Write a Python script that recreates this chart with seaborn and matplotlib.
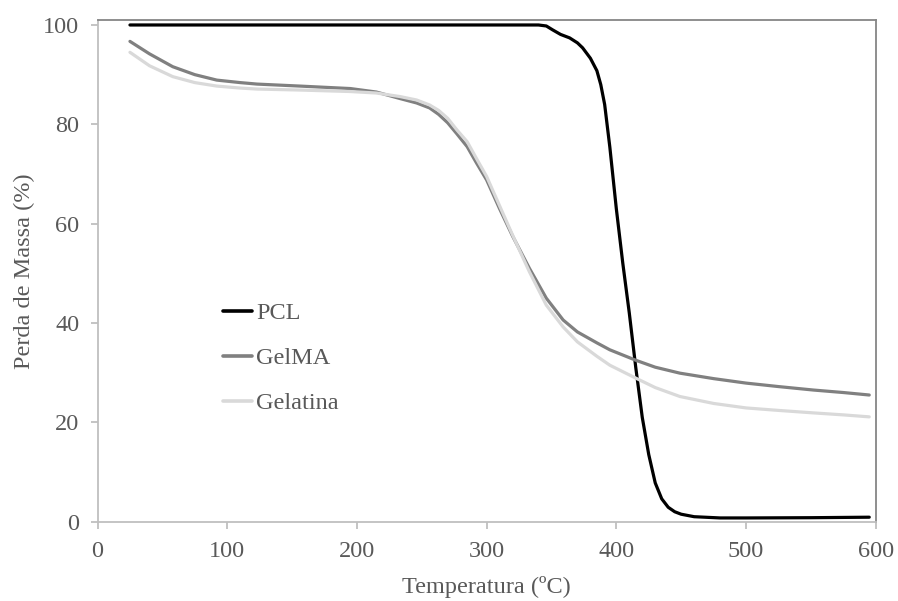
import pandas as pd
import matplotlib.pyplot as plt
import seaborn as sns

# PCL
pcl_temp = [25, 100, 200, 300, 340, 346, 351, 357, 364, 370, 374, 380, 385, 388, 391, 395,
            400, 405, 410, 415, 420, 425, 430, 435, 440, 445, 450, 460, 480, 500, 550, 595]
pcl_massa = [100, 100, 100, 100, 100, 99.8, 99.0, 98.1, 97.4, 96.4, 95.4, 93.3, 90.8, 88.0, 84.0, 75.4,
             63, 52, 42, 31, 21, 13.5, 7.8, 4.6, 2.9, 2.0, 1.5, 1.0, 0.75, 0.75, 0.8, 0.9]

# GelMA
gelma_temp = [25, 40, 58, 75, 92, 110, 123, 156, 195, 215, 233, 246, 256, 263, 270, 277, 285,
              292, 300, 310, 320, 333, 346, 359, 370, 385, 395, 415, 430, 449, 475, 500, 525,
              552, 575, 595]
gelma_massa = [96.7, 94.2, 91.6, 90.0, 88.9, 88.4, 88.1, 87.7, 87.2, 86.5, 85.2, 84.3, 83.3, 82.0,
               80.3, 78.1, 75.5, 72.3, 68.8, 63.0, 57.5, 51.0, 45.0, 40.6, 38.2, 36.0, 34.6, 32.5,
               31.1, 29.9, 28.8, 27.9, 27.2, 26.5, 26.0, 25.5]

# Gelatina
gelatina_temp = [25, 40, 58, 75, 92, 110, 123, 156, 195, 215, 233, 246, 256, 263, 270, 277, 285,
                 292, 300, 310, 320, 333, 346, 359, 370, 385, 395, 415, 430, 449, 475, 500, 525,
                 552, 575, 595]
gelatina_massa = [94.5, 91.8, 89.6, 88.4, 87.7, 87.3, 87.1, 86.9, 86.6, 86.3, 85.6, 84.9, 83.9,
                  82.8, 81.2, 78.9, 76.5, 73.2, 69.5, 63.6, 57.7, 50.3, 43.6, 39.2, 36.2, 33.3,
                  31.5, 28.9, 27.0, 25.2, 23.8, 22.9, 22.4, 21.9, 21.5, 21.1]

series = ["PCL", "GelMA", "Gelatina"]
cores = {"PCL": "#000000", "GelMA": "#808080", "Gelatina": "#d9d9d9"}

df = pd.concat([
    pd.DataFrame({"Temperatura": pcl_temp, "Massa": pcl_massa, "Amostra": "PCL"}),
    pd.DataFrame({"Temperatura": gelma_temp, "Massa": gelma_massa, "Amostra": "GelMA"}),
    pd.DataFrame({"Temperatura": gelatina_temp, "Massa": gelatina_massa, "Amostra": "Gelatina"}),
])

sns.set_theme(style="white")
plt.rcParams["font.family"] = ["Liberation Serif", "DejaVu Serif"]

fig = plt.figure(figsize=(8.98, 6.01), dpi=100)
ax = fig.add_axes([0.1086, 0.132, 0.8666, 0.8347])

sns.lineplot(data=df, x="Temperatura", y="Massa", hue="Amostra", hue_order=series,
             palette=cores, linewidth=2.3, sort=False, ax=ax)

ax.set_xlim(0, 600)
ax.set_ylim(0, 101)
ax.set_xticks(range(0, 601, 100))
ax.set_yticks(range(0, 101, 20))

for lado in ["top", "right"]:
    ax.spines[lado].set_color("#868686")
    ax.spines[lado].set_linewidth(1.3)
for lado in ["left", "bottom"]:
    ax.spines[lado].set_color("#bfbfbf")
    ax.spines[lado].set_linewidth(1.3)

ax.tick_params(axis="both", direction="out", length=5, width=1.3, color="#bfbfbf",
               labelsize=17.5, labelcolor="#595959", bottom=True, left=True)
ax.tick_params(axis="x", pad=9)
ax.tick_params(axis="y", pad=8)

ax.set_xlabel("Temperatura (ºC)", fontsize=17.5, color="#595959", labelpad=10)
ax.set_ylabel("Perda de Massa (%)", fontsize=17.5, color="#595959", labelpad=6)

leg = ax.legend(loc="upper left", bbox_to_anchor=(0.146, 0.462), frameon=False, fontsize=17.5,
                handlelength=1.2, handletextpad=0.15, labelspacing=0.95, borderpad=0)
for t in leg.get_texts():
    t.set_color("#595959")
for h in leg.get_lines():
    h.set_linewidth(2.6)

fig.savefig("out.png", dpi=100)
